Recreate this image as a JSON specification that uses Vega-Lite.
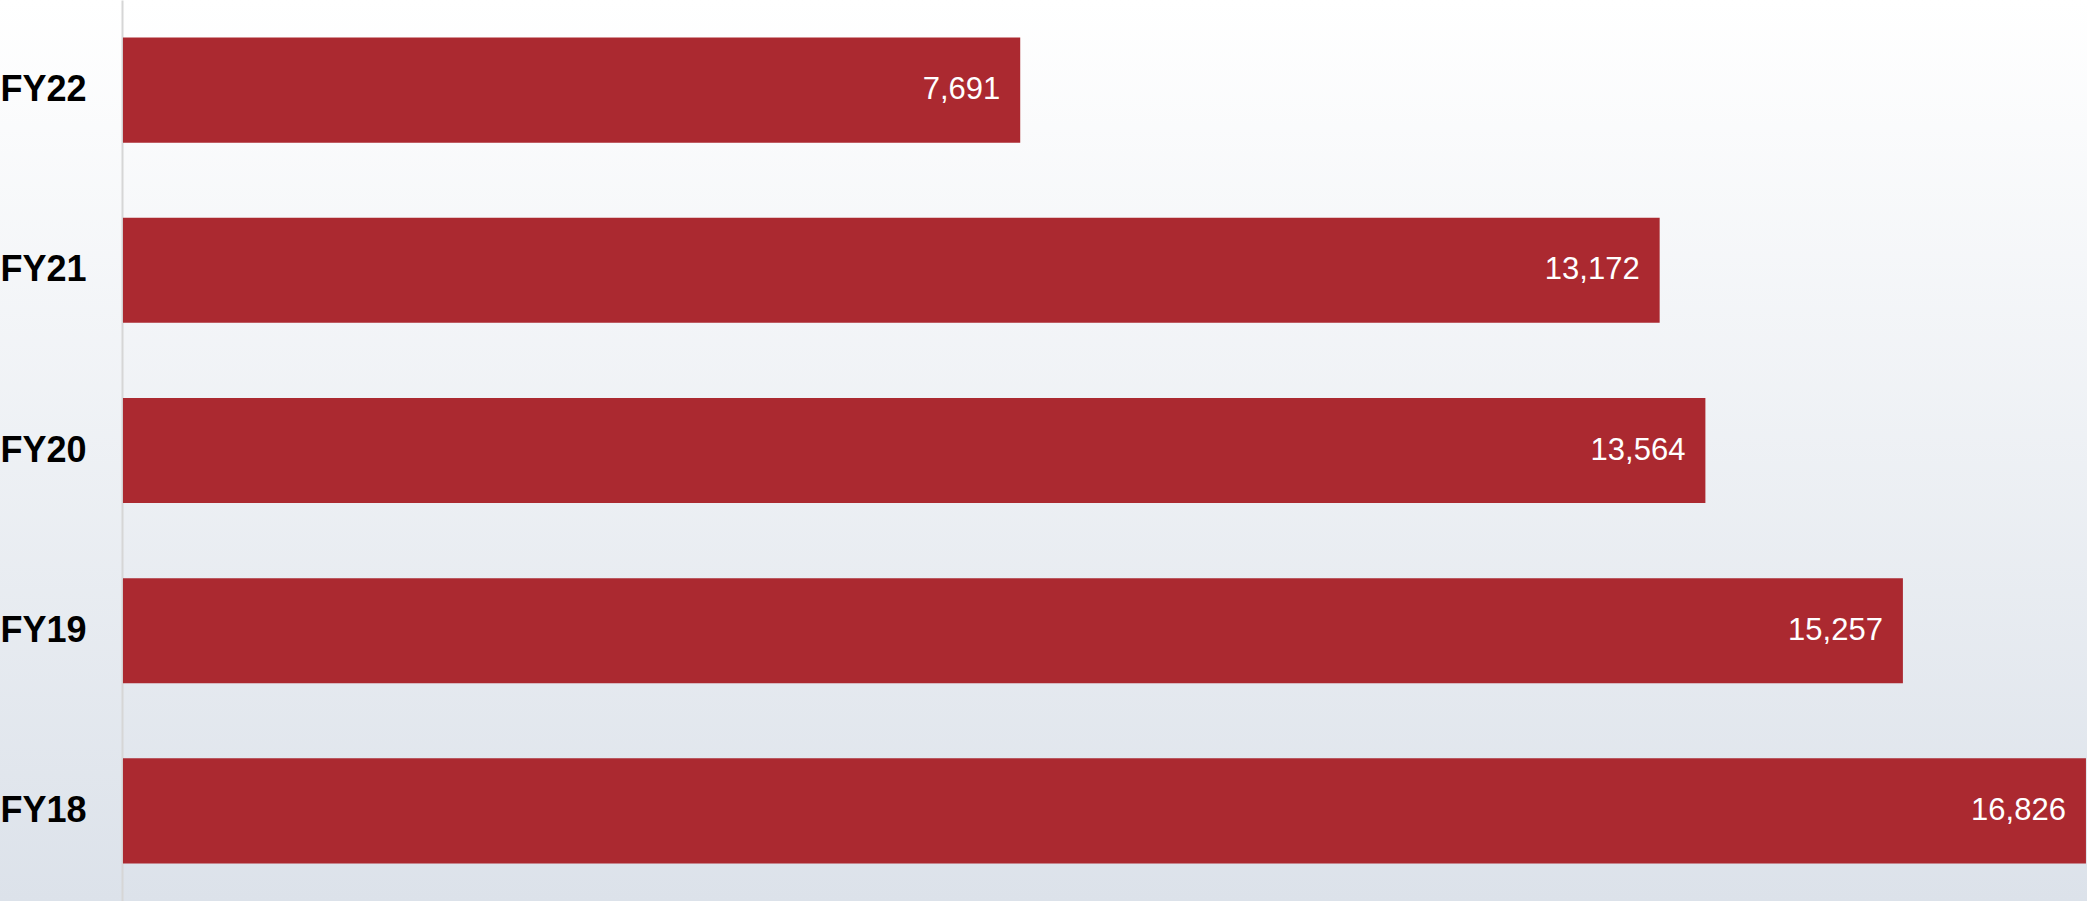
{
  "$schema": "https://vega.github.io/schema/vega-lite/v6.json",
  "width": 2087,
  "height": 901,
  "padding": 0,
  "autosize": {"type": "none"},
  "background": "#ffffff",
  "config": {
    "view": {
      "stroke": null,
      "fill": {"gradient": "linear", "x1": 0, "y1": 0, "x2": 0, "y2": 1, "stops": [{"offset": 0, "color": "#ffffff"}, {"offset": 1, "color": "#dce2ea"}]}
    },
    "font": "Liberation Sans"
  },
  "data": {
    "values": [
      {"year": "FY22", "value": 7691},
      {"year": "FY21", "value": 13172},
      {"year": "FY20", "value": 13564},
      {"year": "FY19", "value": 15257},
      {"year": "FY18", "value": 16826}
    ]
  },
  "encoding": {
    "y": {
      "field": "year",
      "type": "nominal",
      "sort": ["FY22", "FY21", "FY20", "FY19", "FY18"],
      "scale": {"paddingInner": 0.417, "paddingOuter": 0.2085},
      "axis": {
        "title": null,
        "offset": -122,
        "ticks": false,
        "tickSize": 0,
        "labelPadding": 122,
        "labelAlign": "left",
        "labelFont": "Liberation Sans",
        "labelFontSize": 36,
        "labelFontWeight": "bold",
        "labelColor": "#000000",
        "domainColor": "#d6d6d6",
        "domainWidth": 2,
        "grid": false
      }
    }
  },
  "layer": [
    {
      "mark": {"type": "bar", "color": "#ab2930"},
      "encoding": {
        "x": {"field": "value", "type": "quantitative", "scale": {"domain": [-1054, 16835], "nice": false, "zero": false}, "axis": null},
        "x2": {"datum": 0}
      }
    },
    {
      "mark": {"type": "text", "align": "right", "baseline": "middle", "dx": -20, "color": "#ffffff", "fontSize": 31, "font": "Liberation Sans"},
      "encoding": {
        "x": {"field": "value", "type": "quantitative"},
        "text": {"field": "value", "type": "quantitative", "format": ","}
      }
    }
  ]
}
